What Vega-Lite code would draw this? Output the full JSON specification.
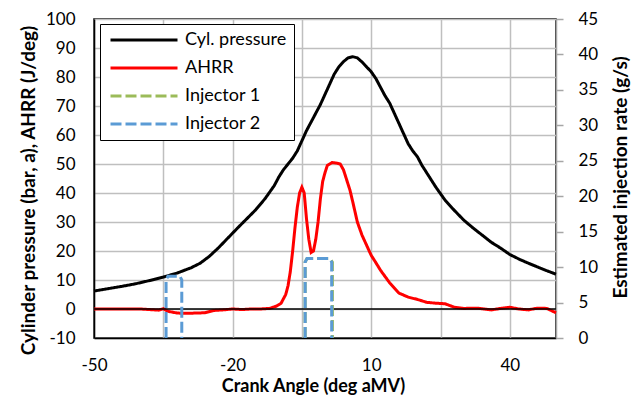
{
  "$schema": "https://vega.github.io/schema/vega-lite/v6.json",
  "width": 462,
  "height": 319,
  "autosize": {"type": "none"},
  "padding": {"left": 94, "top": 19, "right": 86, "bottom": 72},
  "background": "white",
  "datasets": {
    "main": [
      {"series": "Cyl. pressure", "angle": -50, "value": 6.2},
      {"series": "Cyl. pressure", "angle": -47, "value": 7.0},
      {"series": "Cyl. pressure", "angle": -44, "value": 7.8},
      {"series": "Cyl. pressure", "angle": -41, "value": 8.7},
      {"series": "Cyl. pressure", "angle": -38, "value": 9.8},
      {"series": "Cyl. pressure", "angle": -35, "value": 11.0},
      {"series": "Cyl. pressure", "angle": -32, "value": 12.4},
      {"series": "Cyl. pressure", "angle": -29, "value": 14.2},
      {"series": "Cyl. pressure", "angle": -27, "value": 15.8},
      {"series": "Cyl. pressure", "angle": -25, "value": 18.2},
      {"series": "Cyl. pressure", "angle": -23, "value": 21.2},
      {"series": "Cyl. pressure", "angle": -21, "value": 24.5},
      {"series": "Cyl. pressure", "angle": -19, "value": 27.8},
      {"series": "Cyl. pressure", "angle": -17, "value": 31.0},
      {"series": "Cyl. pressure", "angle": -15, "value": 34.2},
      {"series": "Cyl. pressure", "angle": -13, "value": 38.0},
      {"series": "Cyl. pressure", "angle": -11, "value": 42.5},
      {"series": "Cyl. pressure", "angle": -10, "value": 45.5},
      {"series": "Cyl. pressure", "angle": -9, "value": 48.0},
      {"series": "Cyl. pressure", "angle": -8, "value": 50.0},
      {"series": "Cyl. pressure", "angle": -7, "value": 52.0},
      {"series": "Cyl. pressure", "angle": -6, "value": 54.5},
      {"series": "Cyl. pressure", "angle": -5, "value": 58.0},
      {"series": "Cyl. pressure", "angle": -4, "value": 61.5},
      {"series": "Cyl. pressure", "angle": -3, "value": 64.5},
      {"series": "Cyl. pressure", "angle": -2, "value": 67.5},
      {"series": "Cyl. pressure", "angle": -1, "value": 70.5},
      {"series": "Cyl. pressure", "angle": 0, "value": 74.0},
      {"series": "Cyl. pressure", "angle": 1, "value": 77.5},
      {"series": "Cyl. pressure", "angle": 2, "value": 81.0},
      {"series": "Cyl. pressure", "angle": 3, "value": 83.5},
      {"series": "Cyl. pressure", "angle": 4, "value": 85.3},
      {"series": "Cyl. pressure", "angle": 5, "value": 86.6},
      {"series": "Cyl. pressure", "angle": 6, "value": 87.0},
      {"series": "Cyl. pressure", "angle": 7, "value": 86.6},
      {"series": "Cyl. pressure", "angle": 8, "value": 85.2},
      {"series": "Cyl. pressure", "angle": 9, "value": 83.5},
      {"series": "Cyl. pressure", "angle": 10, "value": 81.8},
      {"series": "Cyl. pressure", "angle": 11, "value": 79.5},
      {"series": "Cyl. pressure", "angle": 12, "value": 76.5},
      {"series": "Cyl. pressure", "angle": 13, "value": 73.5},
      {"series": "Cyl. pressure", "angle": 14, "value": 71.0},
      {"series": "Cyl. pressure", "angle": 15, "value": 67.5},
      {"series": "Cyl. pressure", "angle": 16, "value": 64.0},
      {"series": "Cyl. pressure", "angle": 17, "value": 60.5},
      {"series": "Cyl. pressure", "angle": 18, "value": 57.0},
      {"series": "Cyl. pressure", "angle": 19, "value": 54.5},
      {"series": "Cyl. pressure", "angle": 20, "value": 52.5},
      {"series": "Cyl. pressure", "angle": 21, "value": 49.5},
      {"series": "Cyl. pressure", "angle": 22, "value": 47.0},
      {"series": "Cyl. pressure", "angle": 23, "value": 44.5},
      {"series": "Cyl. pressure", "angle": 24, "value": 42.0},
      {"series": "Cyl. pressure", "angle": 26, "value": 37.5},
      {"series": "Cyl. pressure", "angle": 28, "value": 34.0},
      {"series": "Cyl. pressure", "angle": 30, "value": 30.7},
      {"series": "Cyl. pressure", "angle": 32, "value": 28.0},
      {"series": "Cyl. pressure", "angle": 34, "value": 25.5},
      {"series": "Cyl. pressure", "angle": 36, "value": 23.0},
      {"series": "Cyl. pressure", "angle": 38, "value": 21.0},
      {"series": "Cyl. pressure", "angle": 40, "value": 18.8},
      {"series": "Cyl. pressure", "angle": 42, "value": 17.2},
      {"series": "Cyl. pressure", "angle": 44, "value": 15.8},
      {"series": "Cyl. pressure", "angle": 46, "value": 14.5},
      {"series": "Cyl. pressure", "angle": 48, "value": 13.2},
      {"series": "Cyl. pressure", "angle": 50, "value": 12.0},
      {"series": "AHRR", "angle": -50, "value": 0.0},
      {"series": "AHRR", "angle": -45, "value": 0.0},
      {"series": "AHRR", "angle": -40, "value": 0.0},
      {"series": "AHRR", "angle": -36, "value": -0.4},
      {"series": "AHRR", "angle": -35, "value": 0.1},
      {"series": "AHRR", "angle": -34, "value": -0.8},
      {"series": "AHRR", "angle": -32, "value": -1.4},
      {"series": "AHRR", "angle": -30, "value": -1.5},
      {"series": "AHRR", "angle": -26, "value": -1.3},
      {"series": "AHRR", "angle": -24, "value": -0.5},
      {"series": "AHRR", "angle": -22, "value": -0.3},
      {"series": "AHRR", "angle": -20, "value": 0.0},
      {"series": "AHRR", "angle": -18, "value": -0.2},
      {"series": "AHRR", "angle": -16, "value": 0.0},
      {"series": "AHRR", "angle": -14, "value": 0.0},
      {"series": "AHRR", "angle": -12, "value": 0.2},
      {"series": "AHRR", "angle": -10.5, "value": 1.0},
      {"series": "AHRR", "angle": -9.5, "value": 2.0},
      {"series": "AHRR", "angle": -8.5, "value": 5.0},
      {"series": "AHRR", "angle": -8, "value": 8.0},
      {"series": "AHRR", "angle": -7.5, "value": 13.0},
      {"series": "AHRR", "angle": -7, "value": 20.0},
      {"series": "AHRR", "angle": -6.5, "value": 28.0},
      {"series": "AHRR", "angle": -6, "value": 35.0},
      {"series": "AHRR", "angle": -5.5, "value": 40.0},
      {"series": "AHRR", "angle": -5, "value": 42.0},
      {"series": "AHRR", "angle": -4.5, "value": 40.0},
      {"series": "AHRR", "angle": -4, "value": 31.0},
      {"series": "AHRR", "angle": -3.5, "value": 24.0},
      {"series": "AHRR", "angle": -3, "value": 19.5},
      {"series": "AHRR", "angle": -2.5, "value": 20.0},
      {"series": "AHRR", "angle": -2, "value": 24.0},
      {"series": "AHRR", "angle": -1.5, "value": 30.0},
      {"series": "AHRR", "angle": -1, "value": 38.0},
      {"series": "AHRR", "angle": -0.5, "value": 44.0},
      {"series": "AHRR", "angle": 0, "value": 47.0},
      {"series": "AHRR", "angle": 0.5, "value": 49.5},
      {"series": "AHRR", "angle": 1.5, "value": 50.5},
      {"series": "AHRR", "angle": 2.5, "value": 50.3},
      {"series": "AHRR", "angle": 3.3, "value": 50.0},
      {"series": "AHRR", "angle": 4, "value": 48.0},
      {"series": "AHRR", "angle": 4.7, "value": 44.5},
      {"series": "AHRR", "angle": 5.4, "value": 41.0},
      {"series": "AHRR", "angle": 6, "value": 37.0},
      {"series": "AHRR", "angle": 7, "value": 30.0},
      {"series": "AHRR", "angle": 8, "value": 25.5},
      {"series": "AHRR", "angle": 9, "value": 22.0},
      {"series": "AHRR", "angle": 10, "value": 18.5},
      {"series": "AHRR", "angle": 11, "value": 16.0},
      {"series": "AHRR", "angle": 12, "value": 13.4},
      {"series": "AHRR", "angle": 14, "value": 9.0},
      {"series": "AHRR", "angle": 16, "value": 5.5},
      {"series": "AHRR", "angle": 18, "value": 4.1},
      {"series": "AHRR", "angle": 20, "value": 3.3},
      {"series": "AHRR", "angle": 22, "value": 2.3},
      {"series": "AHRR", "angle": 24, "value": 2.0},
      {"series": "AHRR", "angle": 26, "value": 1.8},
      {"series": "AHRR", "angle": 28, "value": 0.6},
      {"series": "AHRR", "angle": 30, "value": 0.2},
      {"series": "AHRR", "angle": 33, "value": 0.3},
      {"series": "AHRR", "angle": 36, "value": -0.3},
      {"series": "AHRR", "angle": 38, "value": 0.2},
      {"series": "AHRR", "angle": 40, "value": 0.6},
      {"series": "AHRR", "angle": 42, "value": 0.0},
      {"series": "AHRR", "angle": 44, "value": -0.3},
      {"series": "AHRR", "angle": 46, "value": 0.3},
      {"series": "AHRR", "angle": 48, "value": 0.2},
      {"series": "AHRR", "angle": 50, "value": -1.3}
    ],
    "inj": [
      {"series": "Injector 1", "pulse": "main1", "idx": 1, "angle": -4.3, "rate": 0},
      {"series": "Injector 1", "pulse": "main1", "idx": 2, "angle": -4.3, "rate": 10.7},
      {"series": "Injector 1", "pulse": "main1", "idx": 3, "angle": -3.9, "rate": 11.2},
      {"series": "Injector 1", "pulse": "main1", "idx": 4, "angle": 1.1, "rate": 11.2},
      {"series": "Injector 1", "pulse": "main1", "idx": 5, "angle": 1.6, "rate": 10.7},
      {"series": "Injector 1", "pulse": "main1", "idx": 6, "angle": 1.6, "rate": 0},
      {"series": "Injector 2", "pulse": "pilot2", "idx": 7, "angle": -34.4, "rate": 0},
      {"series": "Injector 2", "pulse": "pilot2", "idx": 8, "angle": -34.4, "rate": 8.2},
      {"series": "Injector 2", "pulse": "pilot2", "idx": 9, "angle": -34.0, "rate": 8.7},
      {"series": "Injector 2", "pulse": "pilot2", "idx": 10, "angle": -31.4, "rate": 8.7},
      {"series": "Injector 2", "pulse": "pilot2", "idx": 11, "angle": -31.0, "rate": 8.2},
      {"series": "Injector 2", "pulse": "pilot2", "idx": 12, "angle": -31.0, "rate": 0},
      {"series": "Injector 2", "pulse": "main2", "idx": 13, "angle": -4.3, "rate": 0},
      {"series": "Injector 2", "pulse": "main2", "idx": 14, "angle": -4.3, "rate": 10.7},
      {"series": "Injector 2", "pulse": "main2", "idx": 15, "angle": -3.9, "rate": 11.2},
      {"series": "Injector 2", "pulse": "main2", "idx": 16, "angle": 1.0, "rate": 11.2},
      {"series": "Injector 2", "pulse": "main2", "idx": 17, "angle": 1.45, "rate": 10.7},
      {"series": "Injector 2", "pulse": "main2", "idx": 18, "angle": 1.45, "rate": 0}
    ]
  },
  "layer": [
    {
      "layer": [
        {
          "data": {"name": "main"},
          "mark": {"type": "line", "strokeWidth": 3},
          "encoding": {
            "x": {
              "field": "angle", "type": "quantitative",
              "scale": {"domain": [-50, 50], "nice": false, "zero": false},
              "axis": {
                "values": [-50, -35, -20, -5, 10, 25, 40],
                "labelExpr": "indexof([-50, -20, 10, 40], datum.value) >= 0 ? '' + datum.value : ''",
                "labelOverlap": false,
                "grid": true, "ticks": false, "domainColor": "black", "domainWidth": 1.5,
                "labelPadding": 19, "labelFlush": false,
                "title": "Crank Angle (deg aMV)", "titleFontSize": 18, "titleX": 219, "titleY": 48, "titleBaseline": "middle"
              }
            },
            "y": {
              "field": "value", "type": "quantitative",
              "scale": {"domain": [-10, 100], "nice": false, "zero": false},
              "axis": {
                "values": [-10, 0, 10, 20, 30, 40, 50, 60, 70, 80, 90, 100],
                "labelExpr": "'' + datum.value",
                "labelOverlap": false,
                "grid": true, "ticks": false, "domainColor": "black", "domainWidth": 1.5,
                "labelPadding": 19, "labelFlush": false,
                "title": "Cylinder pressure (bar, a), AHRR (J/deg)", "titleFontSize": 19,
                "titleAngle": 270, "titleX": -66, "titleY": 171, "titleBaseline": "middle", "titleAlign": "center"
              }
            },
            "color": {
              "field": "series", "type": "nominal",
              "scale": {"domain": ["Cyl. pressure", "AHRR", "Injector 1", "Injector 2"], "range": ["#000000", "#ff0000", "#9bbb59", "#5b9bd5"]},
              "legend": {"title": null}
            },
            "strokeDash": {
              "field": "series", "type": "nominal",
              "scale": {"domain": ["Cyl. pressure", "AHRR", "Injector 1", "Injector 2"], "range": [[1, 0], [1, 0], [11, 4], [11, 4]]},
              "legend": {"title": null}
            }
          }
        },
        {
          "data": {"values": [{"value": 0}]},
          "mark": {"type": "rule", "color": "black", "strokeWidth": 1.5},
          "encoding": {
            "y": {
              "field": "value", "type": "quantitative",
              "scale": {"domain": [-10, 100], "nice": false, "zero": false},
              "axis": {
                "values": [-10, 0, 10, 20, 30, 40, 50, 60, 70, 80, 90, 100],
                "labelExpr": "'' + datum.value",
                "labelOverlap": false,
                "grid": true, "ticks": false, "domainColor": "black", "domainWidth": 1.5,
                "labelPadding": 19, "labelFlush": false,
                "title": "Cylinder pressure (bar, a), AHRR (J/deg)", "titleFontSize": 19,
                "titleAngle": 270, "titleX": -66, "titleY": 171, "titleBaseline": "middle", "titleAlign": "center"
              }
            }
          }
        }
      ]
    },
    {
      "data": {"name": "inj"},
      "mark": {"type": "line", "strokeWidth": 3},
      "encoding": {
        "x": {"field": "angle", "type": "quantitative", "scale": {"domain": [-50, 50], "nice": false, "zero": false}},
        "y": {
          "field": "rate", "type": "quantitative",
          "scale": {"domain": [0, 45], "nice": false},
          "axis": {
            "orient": "right",
            "values": [0, 5, 10, 15, 20, 25, 30, 35, 40, 45],
            "labelOverlap": false,
            "grid": false, "ticks": true, "tickSize": 7, "tickColor": "#a6a6a6", "tickWidth": 1.5,
            "domainColor": "#a6a6a6", "domainWidth": 1.5,
            "labelPadding": 15, "labelFlush": false,
            "title": "Estimated injection rate (g/s)", "titleFontSize": 19,
            "titleAngle": 270, "titleX": 64, "titleY": 158, "titleBaseline": "middle", "titleAlign": "center"
          }
        },
        "color": {"field": "series", "type": "nominal"},
        "strokeDash": {"field": "series", "type": "nominal"},
        "detail": {"field": "pulse", "type": "nominal"},
        "order": {"field": "idx", "type": "quantitative"}
      }
    }
  ],
  "resolve": {"scale": {"y": "independent"}},
  "config": {
    "font": "Lato",
    "view": {"stroke": "black", "strokeWidth": 1.5},
    "axis": {
      "labelFont": "Lato", "labelFontSize": 17, "labelColor": "black", "labelOverlap": false,
      "titleFont": "Lato", "titleFontSize": 16, "titleFontWeight": "bold", "titleColor": "black",
      "gridColor": "#bfbfbf", "gridWidth": 1.5
    },
    "legend": {
      "orient": "none", "legendX": 6, "legendY": 5,
      "strokeColor": "black", "fillColor": "white", "padding": 7,
      "symbolType": "stroke", "symbolSize": 4489, "symbolStrokeWidth": 3, "symbolOffset": 2,
      "clipHeight": 18,
      "labelFont": "Lato", "labelFontSize": 18, "labelColor": "black",
      "labelOffset": 6, "rowPadding": 10
    }
  }
}
